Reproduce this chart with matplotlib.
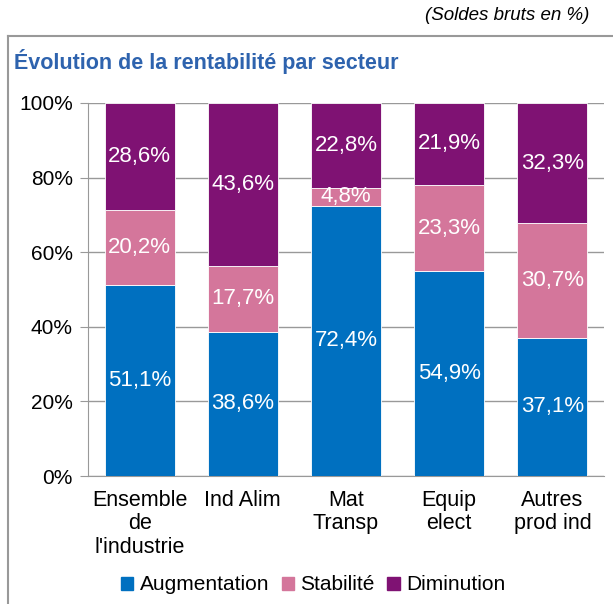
import numpy as np
import matplotlib.pyplot as plt
from matplotlib.patches import Rectangle
from matplotlib.lines import Line2D

plt.rcParams['font.family'] = ['Liberation Sans', 'DejaVu Sans']

categories = ['Ensemble\nde\nl\'industrie', 'Ind Alim', 'Mat\nTransp', 'Equip\nelect', 'Autres\nprod ind']
augmentation = [51.1, 38.6, 72.4, 54.9, 37.1]
stabilite = [20.2, 17.7, 4.8, 23.3, 30.7]
diminution = [28.6, 43.6, 22.8, 21.9, 32.3]
series_names = ['Augmentation', 'Stabilité', 'Diminution']
colors = ['#0070C0', '#D4769B', '#7F1273']

data = np.array([augmentation, stabilite, diminution])
shares = data / data.sum(axis=0) * 100

fig = plt.figure(figsize=(6.13, 6.04), dpi=100)
W, H = 613, 604
ax = fig.add_axes([88 / W, (H - 476) / H, (604 - 88) / W, 373 / H])

x = np.arange(len(categories))
bottom = np.zeros(len(categories))
for i in range(3):
    ax.bar(x, shares[i], 0.68, bottom=bottom, color=colors[i], edgecolor='white', linewidth=0.6, zorder=3)
    for j in range(len(categories)):
        ax.text(x[j], bottom[j] + shares[i][j] / 2, f'{data[i][j]:.1f}%'.replace('.', ','),
                ha='center', va='center', color='white', fontsize=16, zorder=4)
    bottom += shares[i]

ax.set_xlim(-0.5, len(categories) - 0.5)
ax.set_ylim(0, 100)
ax.set_yticks(np.arange(0, 101, 20))
ax.set_yticklabels([f'{v}%' for v in range(0, 101, 20)], fontsize=15)
ax.set_xticks(x)
ax.set_xticklabels(categories, fontsize=15.5, linespacing=1.15)
ax.yaxis.grid(True, color='#999999', linewidth=1, zorder=0)
for s in ['top', 'right']:
    ax.spines[s].set_visible(False)
ax.spines['left'].set_color('#999999')
ax.spines['bottom'].set_color('#999999')
ax.tick_params(axis='y', length=6, color='#999999', pad=5)
ax.tick_params(axis='x', length=0, pad=10)

# outer frame
fig.add_artist(Line2D([8 / W, 8 / W], [0, 1 - 36 / H], color='#999999', lw=1.5, transform=fig.transFigure))
fig.add_artist(Line2D([8 / W, 1], [1 - 36 / H, 1 - 36 / H], color='#999999', lw=1.5, transform=fig.transFigure))

fig.text(589 / W, 1 - 15 / H, '(Soldes bruts en %)', ha='right', va='center', style='italic', fontsize=13.5)
fig.text(14 / W, 1 - 61 / H, 'Évolution de la rentabilité par secteur', ha='left', va='center',
         fontweight='bold', color='#2E63AE', fontsize=15.5)

handles = [Rectangle((0, 0), 1, 1, color=c) for c in colors]
fig.legend(handles, series_names, loc='center', bbox_to_anchor=(313 / W, 1 - 585 / H), ncol=3,
           frameon=False, fontsize=15, handlelength=0.6, handleheight=0.6, handletextpad=0.3,
           columnspacing=0.6)

fig.savefig('out.png', dpi=100)
